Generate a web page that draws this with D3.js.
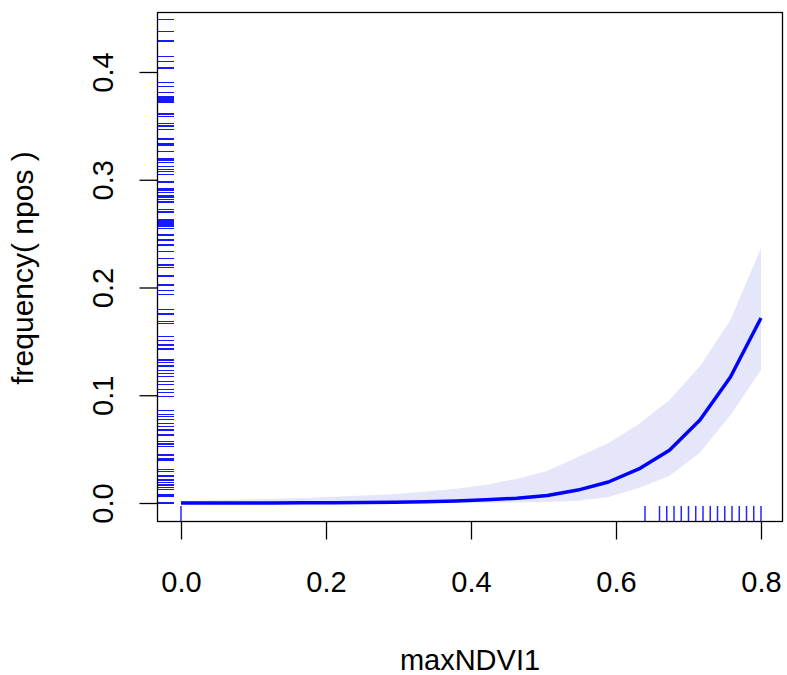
<!DOCTYPE html>
<html>
<head>
<meta charset="utf-8">
<script src="https://cdn.jsdelivr.net/npm/d3@7"></script>
<style>
  body { margin: 0; background: #fff; }
  svg { display: block; font-family: "Liberation Sans", Arial, Helvetica, sans-serif; }
</style>
</head>
<body>
<div class="chart"></div>
<script>
// fitted curve, evaluated on a grid of 20 points along maxNDVI1
const gridX = [0, 0.0421, 0.0842, 0.1263, 0.1684, 0.2105, 0.2526, 0.2947, 0.3368, 0.3789,
  0.4211, 0.4632, 0.5053, 0.5474, 0.5895, 0.6316, 0.6737, 0.7158, 0.7579, 0.8]
const fitY = [0.00003, 0.00004, 0.00007, 0.00011, 0.00018, 0.00029, 0.00046, 0.00073, 0.0012, 0.0019,
  0.003, 0.0044, 0.0070, 0.012, 0.0195, 0.0316, 0.049, 0.077, 0.117, 0.1717]
const upperY = [0.002, 0.0025, 0.0031, 0.0038, 0.0047, 0.0057, 0.0069, 0.0084, 0.0104, 0.0133,
  0.017, 0.0225, 0.030, 0.0427, 0.0557, 0.0733, 0.0956, 0.127, 0.1698, 0.2367]
const lowerY = [0, 0, 0, 0, 0, 0, 0, 0.00001, 0.00003, 0.0001,
  0.0002, 0.0005, 0.001, 0.0022, 0.0055, 0.0139, 0.0251, 0.0467, 0.0817, 0.1234]

// rugs of the observations
const rugX = [0, 0.64, 0.66, 0.67, 0.68, 0.69, 0.70, 0.71, 0.72, 0.73, 0.74, 0.75, 0.76, 0.77, 0.78, 0.79, 0.80]
const rugY = [0.4489, 0.4378, 0.4288, 0.4146, 0.4099, 0.4037, 0.3904, 0.3864, 0.3812, 0.3768,
  0.3749, 0.3731, 0.3715, 0.3610, 0.3585, 0.3524, 0.3499, 0.3468, 0.3378, 0.3332,
  0.3316, 0.3260, 0.3193, 0.3177, 0.3162, 0.3121, 0.3097, 0.3075, 0.3051, 0.2979,
  0.2921, 0.2905, 0.2880, 0.2849, 0.2833, 0.2819, 0.2794, 0.2726, 0.2707, 0.2694,
  0.2626, 0.2608, 0.2589, 0.2571, 0.2549, 0.2487, 0.2441, 0.2394, 0.2332, 0.2271,
  0.2209, 0.2187, 0.2107, 0.2023, 0.1970, 0.1937, 0.1798, 0.1754, 0.1683, 0.1668,
  0.1543, 0.1506, 0.1466, 0.1429, 0.1327, 0.1302, 0.1271, 0.1228, 0.1204, 0.1172,
  0.1126, 0.1102, 0.1055, 0.1024, 0.0987, 0.0857, 0.0823, 0.0801, 0.0777, 0.0740,
  0.0708, 0.0677, 0.0631, 0.0569, 0.0548, 0.0523, 0.0445, 0.0415, 0.0399, 0.0313,
  0.0290, 0.0251, 0.0213, 0.0188, 0.0167, 0.0146, 0.0127, 0.0074, 0.0058, 0]

const xTicks = [0, 0.2, 0.4, 0.6, 0.8]
const yTicks = [0, 0.1, 0.2, 0.3, 0.4]

const width = 787, height = 675
const box = { left: 157.5, right: 782.5, top: 12.5, bottom: 521.5 }
const fontSize = 29
const tickLen = 18

const x = d3.scaleLinear().domain([0, 0.8]).range([181, 761])
const y = d3.scaleLinear().domain([0, 0.4]).range([503, 72])

const svg = d3.select(".chart")
    .append("svg")
    .attr("width", width)
    .attr("height", height)

const rows = gridX.map((d, i) => ({ x: d, fit: fitY[i], lo: lowerY[i], hi: upperY[i] }))

// confidence band
svg.append("path")
    .datum(rows)
    .attr("fill", "#e6e6fa")
    .attr("d", d3.area()
        .x(d => x(d.x))
        .y0(d => y(d.lo))
        .y1(d => y(d.hi)))

// fitted line
svg.append("path")
    .datum(rows)
    .attr("fill", "none")
    .attr("stroke", "blue")
    .attr("stroke-width", 3.5)
    .attr("stroke-linejoin", "round")
    .attr("d", d3.line().x(d => x(d.x)).y(d => y(d.fit)))

// rugs
svg.append("g")
    .attr("shape-rendering", "crispEdges")
    .selectAll("line")
    .data(rugY)
    .enter().append("line")
    .attr("x1", box.left)
    .attr("x2", box.left + 16)
    .attr("y1", d => y(d))
    .attr("y2", d => y(d))
    .attr("stroke", "blue")
    .attr("stroke-width", 1.2)
    .attr("stroke-opacity", 0.9)

svg.append("g")
    .selectAll("line")
    .data(rugX)
    .enter().append("line")
    .attr("x1", d => x(d))
    .attr("x2", d => x(d))
    .attr("y1", box.bottom)
    .attr("y2", box.bottom - 15.5)
    .attr("stroke", "blue")
    .attr("stroke-width", 1.5)
    .attr("stroke-opacity", 0.85)

// frame
svg.append("rect")
    .attr("x", box.left)
    .attr("y", box.top)
    .attr("width", box.right - box.left)
    .attr("height", box.bottom - box.top)
    .attr("fill", "none")
    .attr("stroke", "black")
    .attr("stroke-width", 1.3)

// x axis
const xAxis = svg.append("g")
    .attr("transform", "translate(0," + box.bottom + ")")
    .call(d3.axisBottom(x).tickValues(xTicks).tickSize(tickLen).tickFormat(d3.format(".1f")))
xAxis.select(".domain").remove()
xAxis.selectAll("line").attr("stroke-width", 1.3)
xAxis.selectAll("text")
    .attr("y", 70.5)
    .attr("dy", null)
    .style("font-size", fontSize + "px")
    .style("font-family", "Liberation Sans, Arial, sans-serif")
    .attr("fill", "black")

// y axis, labels drawn parallel to the axis
const yAxis = svg.append("g")
    .attr("transform", "translate(" + box.left + ",0)")
    .call(d3.axisLeft(y).tickValues(yTicks).tickSize(tickLen).tickFormat(d3.format(".1f")))
yAxis.select(".domain").remove()
yAxis.selectAll("line").attr("stroke-width", 1.3)
yAxis.selectAll("text")
    .attr("transform", "rotate(-90)")
    .attr("x", 0)
    .attr("y", -44.5)
    .attr("dy", null)
    .attr("text-anchor", "middle")
    .style("font-size", fontSize + "px")
    .style("font-family", "Liberation Sans, Arial, sans-serif")
    .attr("fill", "black")

// axis titles
svg.append("text")
    .attr("x", (box.left + box.right) / 2)
    .attr("y", 670)
    .attr("text-anchor", "middle")
    .style("font-size", fontSize + "px")
    .text("maxNDVI1")

svg.append("text")
    .attr("transform", "translate(33," + (box.top + box.bottom + 2) / 2 + ") rotate(-90)")
    .attr("text-anchor", "middle")
    .style("font-size", "30px")
    .text("frequency( npos )")
</script>
</body>
</html>
